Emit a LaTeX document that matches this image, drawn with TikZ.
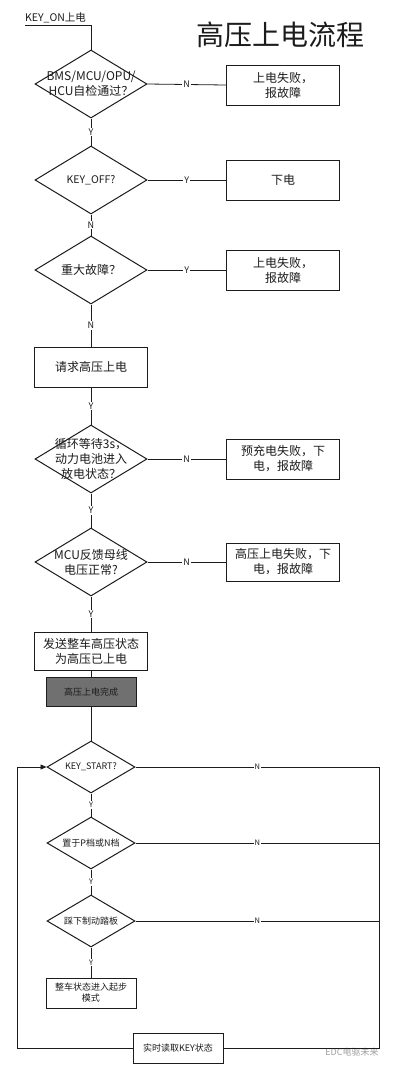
\documentclass[tikz,border=0pt]{standalone}
\usepackage{fontspec}
\setmainfont{Noto Sans CJK SC}
\usepackage{tikz}
\usetikzlibrary{arrows.meta,shapes.geometric}
\definecolor{ink}{HTML}{1C1C1C}
\definecolor{doneGray}{HTML}{707070}
\definecolor{markGray}{HTML}{A0A0A0}
\tikzset{
  ask/.style={diamond, draw=ink, line width=1pt, fill=white, inner sep=0pt,
              minimum width=112pt, minimum height=68pt},
  askSmall/.style={ask, minimum width=88pt, minimum height=52pt},
  askText/.style={font=\fontsize{12}{15}\selectfont\color{ink}, align=center},
  askTextSmall/.style={font=\fontsize{9}{11}\selectfont\color{ink}, align=center},
  act/.style={draw=ink, line width=1pt, fill=white, minimum width=113pt, minimum height=40pt,
              font=\fontsize{12}{15}\selectfont\color{ink}, align=center, inner sep=2pt},
  actSmall/.style={act, minimum width=90pt, minimum height=30pt,
                   font=\fontsize{9}{11}\selectfont\color{ink}},
  done/.style={actSmall, fill=doneGray, minimum height=29pt},
  link/.style={draw=ink, line width=0.8pt},
  tag/.style={fill=white, inner sep=1pt, font=\fontsize{9}{10}\selectfont\color{ink}},
  tagSmall/.style={tag, font=\fontsize{7.5}{8}\selectfont\color{ink}}
}

\begin{document}
\begin{tikzpicture}[x=1pt,y=-1pt]
  \fill[white] (0,0) rectangle (396,1072);
  \useasboundingbox (0,0) rectangle (396,1072);

  % title and entry
  \node[font=\fontsize{28}{30}\selectfont\color{ink}] (title) at (280,35) {高压上电流程};
  \node[font=\fontsize{10.5}{12}\selectfont\color{ink}, anchor=south west, inner sep=1pt] (keyon) at (24,24) {KEY\_ON上电};
  \coordinate (keyonL) at (25,25);

  % power-up checks
  \node[ask, label={[askText]center:{BMS/MCU/OPU/\\HCU自检通过？}}] (selfchk) at (91,84) {};
  \node[ask, label={[askText, font=\fontsize{10.5}{12}\selectfont\color{ink}]center:{KEY\_OFF?}}] (keyoff) at (91,180) {};
  \node[ask, label={[askText]center:{重大故障？}}] (bigfault) at (91,270) {};
  \node[act] (req) at (91,367) {请求高压上电};
  \node[ask, label={[askText]center:{循环等待3s，\\动力电池进入\\放电状态？}}] (wait) at (91,459) {};
  \node[ask, label={[askText]center:{MCU反馈母线\\电压正常?}}] (busok) at (91,562) {};
  \node[act, minimum height=38pt] (send) at (91,651) {发送整车高压状态\\为高压已上电};
  \node[done] (done) at (91,692) {高压上电完成};

  % failure branches
  \node[act] (failA) at (283,85) {上电失败，\\报故障};
  \node[act] (offA) at (283,180) {下电};
  \node[act] (failB) at (283,270) {上电失败，\\报故障};
  \node[act] (failC) at (283,459) {预充电失败，下\\电，报故障};
  \node[act, minimum height=38pt] (failD) at (283,562) {高压上电失败，下\\电，报故障};

  % start loop
  \node[askSmall, label={[askTextSmall]center:{KEY\_START?}}] (start) at (91,767) {};
  \node[askSmall, label={[askTextSmall]center:{置于P档或N档}}] (gear) at (91,843) {};
  \node[askSmall, label={[askTextSmall]center:{踩下制动踏板}}] (brake) at (91,921) {};
  \node[actSmall] (launch) at (91,993) {整车状态进入起步\\模式};
  \node[actSmall] (read) at (178,1048) {实时读取KEY状态};
  \coordinate (loopR1) at (379,767);
  \coordinate (loopR2) at (379,843);
  \coordinate (loopR3) at (379,921);
  \coordinate (loopRB) at (379,1048);
  \coordinate (loopLB) at (17,1048);
  \coordinate (loopLT) at (17,767);

  \node[font=\fontsize{9}{10}\selectfont, text=markGray] (mark) at (352,1052) {EDC电驱未来};

  % connectors
  \draw[link] (keyonL) -| (selfchk.north);
  \draw[link] (selfchk.east) -- node[tag]{N} (failA.west);
  \draw[link] (selfchk.south) -- node[tag]{Y} (keyoff.north);
  \draw[link] (keyoff.east) -- node[tag]{Y} (offA.west);
  \draw[link] (keyoff.south) -- node[tag]{N} (bigfault.north);
  \draw[link] (bigfault.east) -- node[tag]{Y} (failB.west);
  \draw[link] (bigfault.south) -- node[tag]{N} (req.north);
  \draw[link] (req.south) -- node[tag]{Y} (wait.north);
  \draw[link] (wait.east) -- node[tag]{N} (failC.west);
  \draw[link] (wait.south) -- node[tag]{Y} (busok.north);
  \draw[link] (busok.east) -- node[tag]{N} (failD.west);
  \draw[link] (busok.south) -- node[tag]{Y} (send.north);
  \draw[link] (send.south) -- (done.north);
  \draw[link] (done.south) -- (start.north);
  \draw[link] (start.east) -- node[tagSmall]{N} (loopR1);
  \draw[link] (gear.east) -- node[tagSmall]{N} (loopR2);
  \draw[link] (brake.east) -- node[tagSmall]{N} (loopR3);
  \draw[link] (start.south) -- node[tagSmall]{Y} (gear.north);
  \draw[link] (gear.south) -- node[tagSmall]{Y} (brake.north);
  \draw[link] (brake.south) -- node[tagSmall]{Y} (launch.north);
  \draw[link] (loopR1) -- (loopRB) -- (read.east);
  \draw[link, -{Triangle[length=6pt,width=5pt]}] (read.west) -- (loopLB) -- (loopLT) -- (start.west);
\end{tikzpicture}
\end{document}
